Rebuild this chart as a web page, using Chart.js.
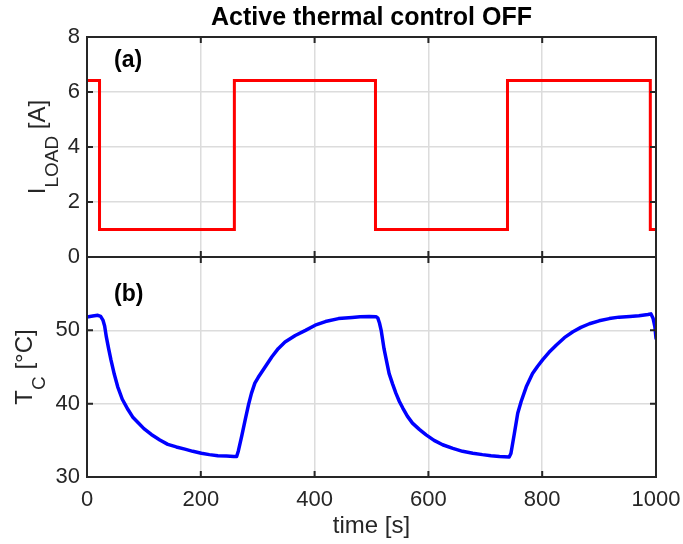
<!DOCTYPE html>
<html>
<head>
<meta charset="utf-8">
<script src="https://cdn.jsdelivr.net/npm/chart.js@4"></script>
<style>
  html, body { margin: 0; padding: 0; background: #ffffff; }
  #wrap { position: relative; width: 683px; height: 544px; }
  canvas { display: block; }
</style>
</head>
<body>
<div id="wrap"><canvas id="c" width="683" height="544"></canvas></div>
<script>
// ---- data ----
const chartTitle = 'Active thermal control OFF';
const xTitle = 'time [s]';
const timeTicks = [0, 200, 400, 600, 800, 1000];
const loadTicks = [0, 2, 4, 6, 8];
const tempTicks = [30, 40, 50];

// load current (step, value held from each time until the next)
const loadTimes  = [0, 22, 259, 507, 739, 990, 1000];
const loadValues = [6.42, 1.0, 6.42, 1.0, 6.42, 1.0, 1.0];

// case temperature
const tempTimes = [0, 10, 19, 24, 28, 31, 34, 38, 42, 48, 54, 62, 72, 81, 90, 100, 113, 128, 142, 157,
  172, 186, 201, 215, 230, 245, 258, 263, 266, 272, 278, 284, 289, 295, 301, 313, 325, 336, 348, 366,
  384, 401, 419, 442, 466, 480, 496, 508, 511, 514, 517, 522, 527, 531, 537, 543, 549, 555, 563, 572,
  584, 596, 610, 625, 643, 660, 678, 695, 710, 725, 742, 745, 747, 751, 757, 763, 772, 783, 792, 801,
  812, 825, 839, 854, 868, 883, 900, 918, 935, 954, 970, 986, 991, 995, 998, 1000];
const tempValues = [51.8, 51.95, 52.05, 51.9, 51.4, 50.6, 49.1, 47.5, 46.0, 44.0, 42.3, 40.6, 39.2, 38.1, 37.4, 36.6, 35.8, 35.05, 34.45, 34.1,
  33.8, 33.5, 33.25, 33.05, 32.9, 32.85, 32.8, 32.8, 33.55, 35.6, 37.8, 39.9, 41.4, 42.8, 43.6, 45.0, 46.4, 47.5, 48.4, 49.3,
  50.0, 50.7, 51.2, 51.6, 51.75, 51.85, 51.9, 51.85, 51.7, 51.0, 50.0, 47.5, 45.6, 44.1, 42.7, 41.4, 40.3, 39.4, 38.3, 37.35,
  36.5, 35.75, 35.0, 34.4, 33.9, 33.5, 33.25, 33.05, 32.9, 32.8, 32.72, 33.2, 34.1, 35.9, 38.7, 40.3, 42.3, 44.1, 45.1, 46.0,
  47.0, 48.0, 49.0, 49.8, 50.4, 50.9, 51.3, 51.6, 51.8, 51.9, 52.0, 52.15, 52.25, 51.6, 50.5, 48.9];

// ---- styling ----
const FONT = "'Liberation Sans', Arial, Helvetica, sans-serif";
const AX = '#262626';
const GRID = '#dcdcdc';

const tickSetter = (vals) => (scale) => { scale.ticks = vals.map(v => ({ value: v })); };
const plainLabel = (v) => String(v);

const frameAndLabels = {
  id: 'frameAndLabels',
  afterDraw(chart) {
    const ctx = chart.ctx;
    const a = chart.chartArea;
    const xs = chart.scales.x, yI = chart.scales.yI, yT = chart.scales.yT;
    const TL = 6;
    ctx.save();
    ctx.strokeStyle = AX;
    ctx.lineWidth = 2;
    // frames
    ctx.strokeRect(a.left, a.top, a.right - a.left, a.bottom - a.top);
    const mid = yI.getPixelForValue(yI.min);
    ctx.beginPath(); ctx.moveTo(a.left, mid); ctx.lineTo(a.right, mid); ctx.stroke();
    // inward x ticks
    ctx.beginPath();
    timeTicks.forEach(v => {
      const px = xs.getPixelForValue(v);
      ctx.moveTo(px, a.top); ctx.lineTo(px, a.top + TL);
      ctx.moveTo(px, mid - TL); ctx.lineTo(px, mid + TL);
      ctx.moveTo(px, a.bottom); ctx.lineTo(px, a.bottom - TL);
    });
    // inward y ticks
    loadTicks.forEach(v => {
      const py = yI.getPixelForValue(v);
      ctx.moveTo(a.left, py); ctx.lineTo(a.left + TL, py);
      ctx.moveTo(a.right, py); ctx.lineTo(a.right - TL, py);
    });
    tempTicks.forEach(v => {
      const py = yT.getPixelForValue(v);
      ctx.moveTo(a.left, py); ctx.lineTo(a.left + TL, py);
      ctx.moveTo(a.right, py); ctx.lineTo(a.right - TL, py);
    });
    ctx.stroke();

    // panel labels
    ctx.fillStyle = '#000000';
    ctx.font = 'bold 23px ' + FONT;
    ctx.textAlign = 'left';
    ctx.textBaseline = 'middle';
    ctx.fillText('(a)', 114, 61);
    ctx.fillText('(b)', 114, 295);

    // rotated y-axis titles with subscripts
    function rotLabel(baseX, cy, main, sub, rest) {
      const mainFont = '24px ' + FONT, subFont = '19px ' + FONT;
      ctx.font = mainFont; const w1 = ctx.measureText(main).width;
      ctx.font = subFont; const w2 = ctx.measureText(sub).width;
      ctx.font = mainFont; const w3 = ctx.measureText(rest).width;
      const total = w1 + w2 + w3;
      ctx.save();
      ctx.translate(baseX, cy);
      ctx.rotate(-Math.PI / 2);
      ctx.fillStyle = AX;
      ctx.textAlign = 'left';
      ctx.textBaseline = 'alphabetic';
      let x = -total / 2;
      ctx.font = mainFont; ctx.fillText(main, x, 0); x += w1;
      ctx.font = subFont; ctx.fillText(sub, x, 13); x += w2;
      ctx.font = mainFont; ctx.fillText(rest, x, 0);
      ctx.restore();
    }
    rotLabel(45, (yI.top + yI.bottom) / 2, 'I', 'LOAD', ' [A]');
    rotLabel(32, (yT.top + yT.bottom) / 2, 'T', 'C', ' [°C]');
    ctx.restore();
  }
};

const loadData = loadTimes.map((t, i) => ({ x: t, y: loadValues[i] }));
const tempData = tempTimes.map((t, i) => ({ x: t, y: tempValues[i] }));

new Chart(document.getElementById('c'), {
  type: 'line',
  data: {
    datasets: [
      { label: 'I_LOAD', data: loadData, xAxisID: 'x', yAxisID: 'yI', borderColor: '#ff0000',
        borderWidth: 3, pointRadius: 0, stepped: true, fill: false },
      { label: 'T_C', data: tempData, xAxisID: 'x', yAxisID: 'yT', borderColor: '#0000ff',
        borderWidth: 3.5, pointRadius: 0, tension: 0, fill: false, borderJoinStyle: 'round', borderCapStyle: 'round' }
    ]
  },
  options: {
    responsive: false,
    animation: false,
    devicePixelRatio: 1,
    layout: { padding: { left: 0, right: 27, top: 0, bottom: 0 } },
    plugins: {
      legend: { display: false },
      tooltip: { enabled: false },
      title: {
        display: true, text: chartTitle, fullSize: false, color: '#000000',
        font: { family: FONT, size: 25, weight: 'bold', lineHeight: 1.2 },
        padding: { top: 3, bottom: 4 }
      }
    },
    scales: {
      x: {
        type: 'linear', position: 'bottom', min: 0, max: 1000,
        afterBuildTicks: tickSetter(timeTicks),
        afterFit: (s) => { s.height = 67; s.paddingLeft = 0; s.paddingRight = 0; },
        border: { display: false },
        grid: { color: GRID, lineWidth: 1.5, drawTicks: false },
        ticks: { color: AX, font: { family: FONT, size: 22 }, padding: 10, maxRotation: 0, autoSkip: false, callback: plainLabel },
        title: { display: true, text: xTitle, color: AX, font: { family: FONT, size: 24 }, padding: { top: 0, bottom: 3 } }
      },
      yT: {
        axis: 'y', type: 'linear', position: 'left', stack: 'panels', stackWeight: 1, weight: 0,
        min: 30, max: 60,
        afterBuildTicks: tickSetter(tempTicks),
        afterFit: (s) => { s.width = 87; },
        border: { display: false },
        grid: { color: GRID, lineWidth: 1.5, drawTicks: false },
        ticks: { color: AX, font: { family: FONT, size: 22 }, padding: 7, autoSkip: false, callback: plainLabel }
      },
      yI: {
        axis: 'y', type: 'linear', position: 'left', stack: 'panels', stackWeight: 1, weight: 1,
        min: 0, max: 8,
        afterBuildTicks: tickSetter(loadTicks),
        afterFit: (s) => { s.width = 87; },
        border: { display: false },
        grid: { color: GRID, lineWidth: 1.5, drawTicks: false },
        ticks: { color: AX, font: { family: FONT, size: 22 }, padding: 7, autoSkip: false, callback: plainLabel }
      }
    }
  },
  plugins: [frameAndLabels]
});
</script>
</body>
</html>
